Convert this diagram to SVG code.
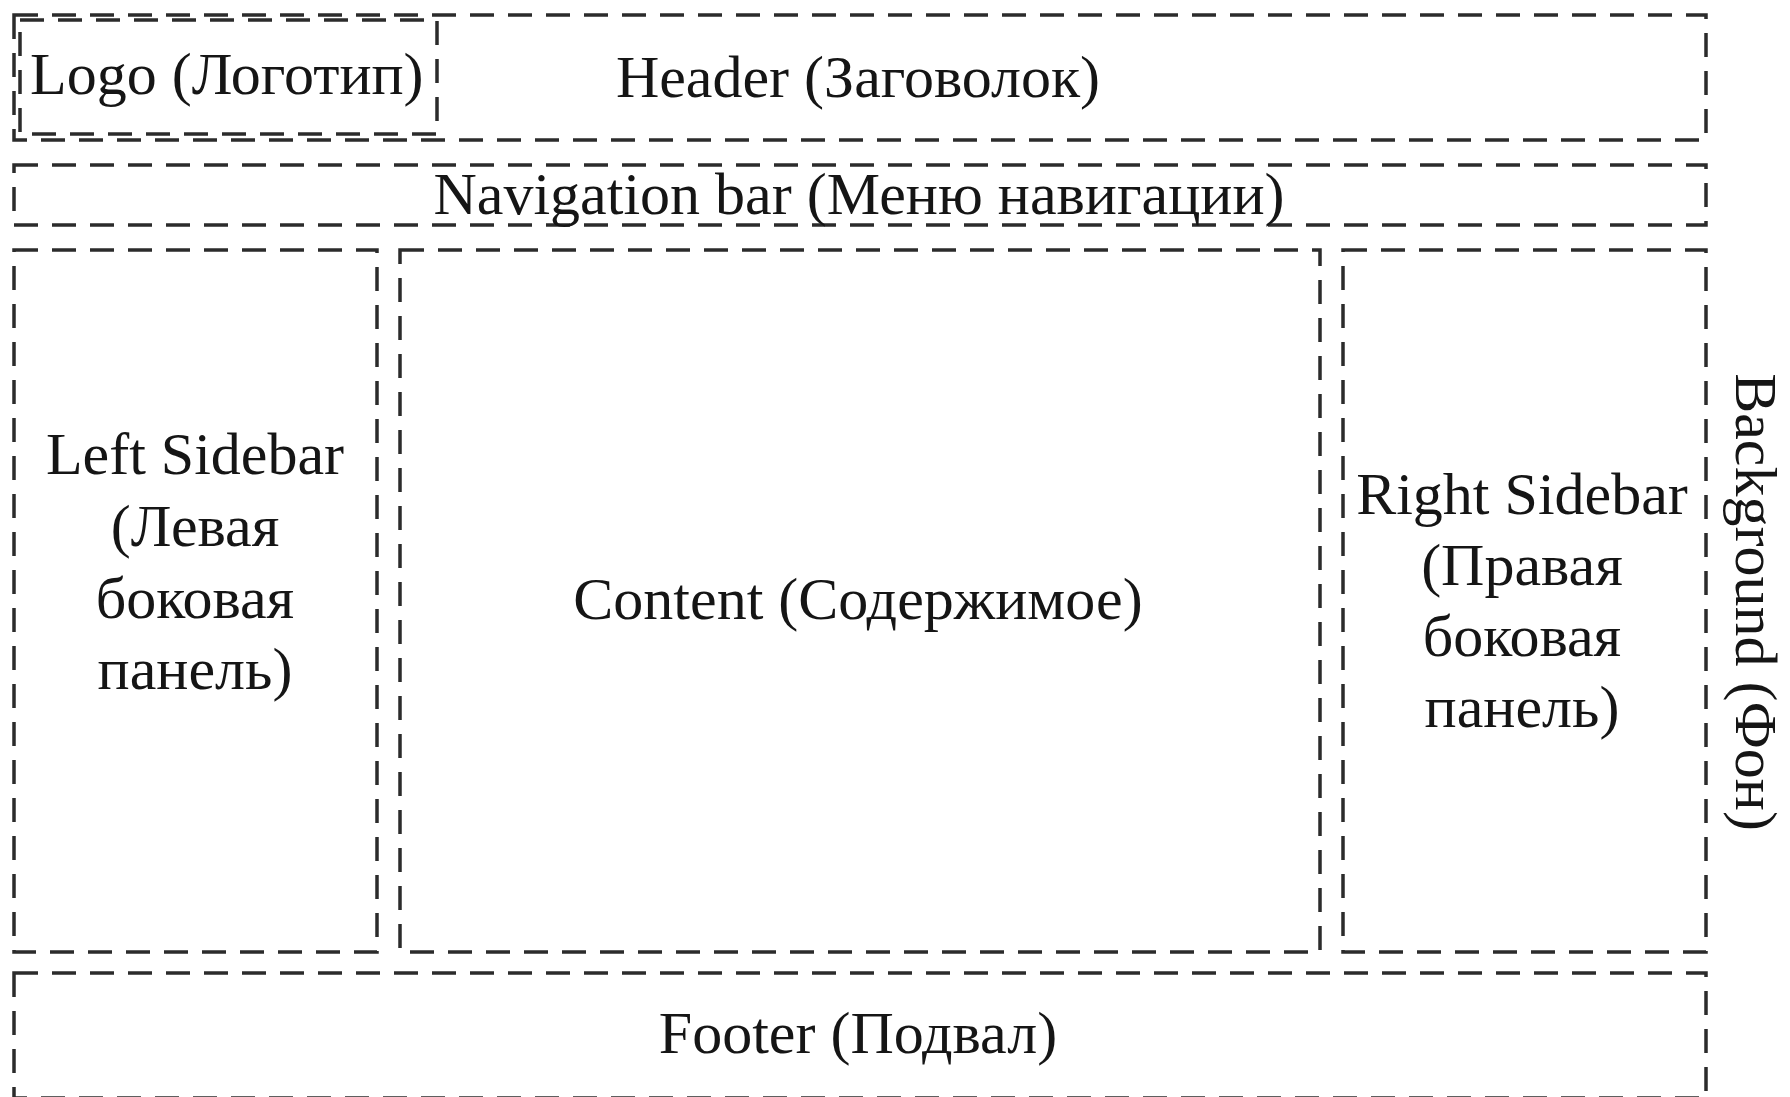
<svg xmlns="http://www.w3.org/2000/svg" width="1790" height="1097" viewBox="0 0 1790 1097">
<style>
.box{fill:none;stroke:#2b2b2b;stroke-width:3.5;stroke-dasharray:24 14}
.lbl{font-family:"Liberation Serif","Times New Roman",serif;font-size:60px;fill:#151515}
.c{text-anchor:middle}
</style>
<rect width="1790" height="1097" fill="#ffffff"/>
<g id="header">
<rect class="box" x="14" y="15" width="1692" height="125"/>
<text class="lbl c" x="858" y="97">Header (Заговолок)</text>
</g>
<g id="logo">
<rect class="box" x="20" y="20" width="417" height="114"/>
<text class="lbl" x="30" y="94">Logo (Логотип)</text>
</g>
<g id="nav">
<rect class="box" x="14" y="165" width="1692" height="60"/>
<text class="lbl c" x="859" y="214">Navigation bar (Меню навигации)</text>
</g>
<g id="left-sidebar">
<rect class="box" x="14" y="250" width="363" height="702"/>
<text class="lbl c" x="195" y="474">Left Sidebar</text>
<text class="lbl c" x="195" y="546">(Левая</text>
<text class="lbl c" x="195" y="618">боковая</text>
<text class="lbl c" x="195" y="689">панель)</text>
</g>
<g id="content">
<rect class="box" x="400" y="250" width="920" height="702"/>
<text class="lbl c" x="858" y="619">Content (Содержимое)</text>
</g>
<g id="right-sidebar">
<rect class="box" x="1343" y="250" width="363" height="702"/>
<text class="lbl c" x="1522" y="514">Right Sidebar</text>
<text class="lbl c" x="1522" y="585">(Правая</text>
<text class="lbl c" x="1522" y="656">боковая</text>
<text class="lbl c" x="1522" y="727">панель)</text>
</g>
<g id="footer">
<rect class="box" x="14" y="973" width="1692" height="125"/>
<text class="lbl c" x="858" y="1053">Footer (Подвал)</text>
</g>
<g id="background">
<text class="lbl c" transform="translate(1736,602) rotate(90)">Background (Фон)</text>
</g>
<g id="connectors"></g>
</svg>
